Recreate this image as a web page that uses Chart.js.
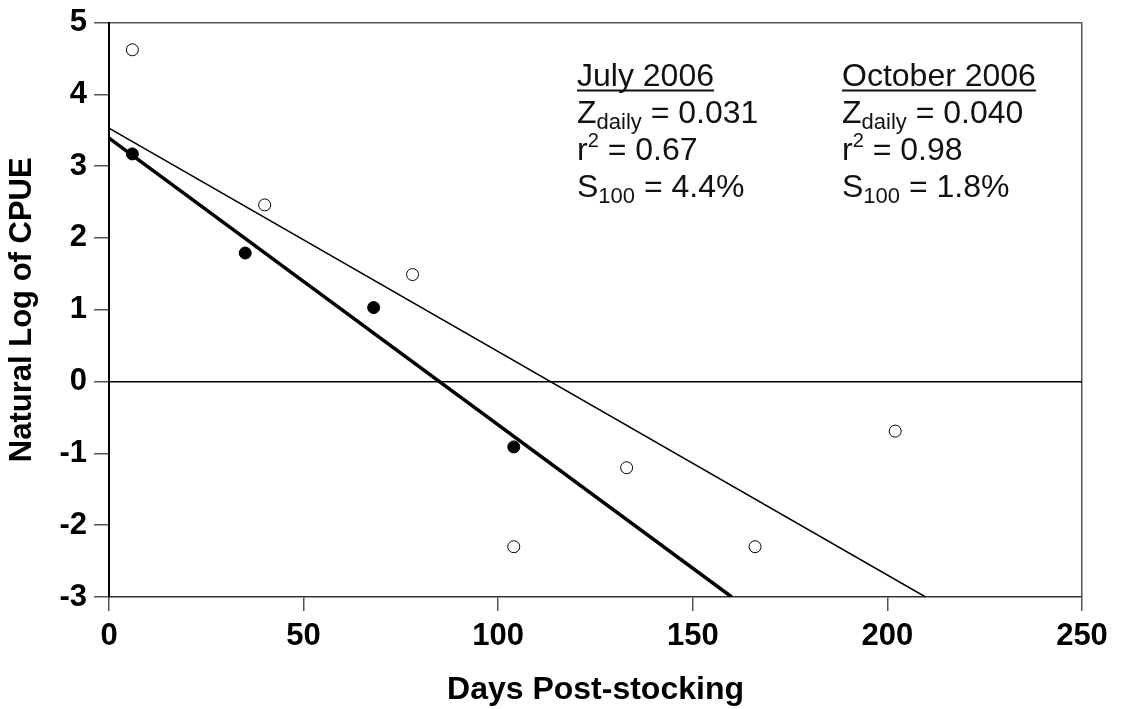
<!DOCTYPE html>
<html>
<head>
<meta charset="utf-8">
<script src="https://cdn.jsdelivr.net/npm/chart.js@4.4.0/dist/chart.umd.min.js"></script>
<style>
  html, body { margin: 0; padding: 0; background: #fff; }
</style>
</head>
<body>
<canvas id="chart" width="1123" height="709"></canvas>
<script>
// July 2006 release (open circles) and October 2006 release (filled circles)
var julyDays = [6, 40, 78, 104, 133, 166, 202];
var julyLnCpue = [4.62, 2.46, 1.49, -2.30, -1.20, -2.30, -0.69];
var octDays = [6, 35, 68, 104];
var octLnCpue = [3.17, 1.79, 1.03, -0.91];

// regression lines, end points
var julyFitDays = [0, 209.8];
var julyFitLn = [3.53, -3];
var octFitDays = [0, 160];
var octFitLn = [3.39, -3];

var xTicks = [0, 50, 100, 150, 200, 250];
var yTicks = [-3, -2, -1, 0, 1, 2, 3, 4, 5];

// text block
var seasons = ['July 2006', 'October 2006'];
var zDaily = ['0.031', '0.040'];
var rSquared = ['0.67', '0.98'];
var s100 = ['4.4%', '1.8%'];

var FONT = '"Liberation Sans", Arial, sans-serif';

function toPoints(xs, ys) {
  var pts = [];
  for (var i = 0; i < xs.length; i++) pts.push({x: xs[i], y: ys[i]});
  return pts;
}

function drawRun(ctx, x, y, parts) {
  for (var i = 0; i < parts.length; i++) {
    var p = parts[i];
    ctx.font = p.size + 'px ' + FONT;
    ctx.fillText(p.t, x, y + (p.dy || 0));
    x += ctx.measureText(p.t).width;
  }
  return x;
}

var statsText = {
  id: 'statsText',
  afterDraw: function(chart) {
    var ctx = chart.ctx;
    var area = chart.chartArea;
    var cols = [area.left + 468, area.left + 733];
    var base = area.top + 63;
    var step = 37;
    ctx.save();
    ctx.fillStyle = '#111';
    ctx.textBaseline = 'alphabetic';
    ctx.textAlign = 'left';
    for (var i = 0; i < seasons.length; i++) {
      var x = cols[i];
      ctx.font = '32px ' + FONT;
      ctx.fillText(seasons[i], x, base);
      var w = ctx.measureText(seasons[i]).width;
      ctx.fillRect(x, base + 4, w, 2);
      drawRun(ctx, x, base + step, [
        {t: 'Z', size: 32},
        {t: 'daily', size: 22, dy: 6},
        {t: ' = ' + zDaily[i], size: 32}
      ]);
      drawRun(ctx, x, base + step * 2, [
        {t: 'r', size: 32},
        {t: '2', size: 20, dy: -13},
        {t: ' = ' + rSquared[i], size: 32}
      ]);
      drawRun(ctx, x, base + step * 3, [
        {t: 'S', size: 32},
        {t: '100', size: 22, dy: 6},
        {t: ' = ' + s100[i], size: 32}
      ]);
    }
    ctx.restore();
  }
};

var chart = new Chart(document.getElementById('chart').getContext('2d'), {
  type: 'scatter',
  data: {
    datasets: [
      {
        label: 'July 2006 fit',
        data: toPoints(julyFitDays, julyFitLn),
        showLine: true,
        borderColor: '#000',
        borderWidth: 1.5,
        pointRadius: 0,
        order: 3
      },
      {
        label: 'October 2006 fit',
        data: toPoints(octFitDays, octFitLn),
        showLine: true,
        borderColor: '#000',
        borderWidth: 3.5,
        pointRadius: 0,
        order: 2
      },
      {
        label: 'July 2006',
        data: toPoints(julyDays, julyLnCpue),
        pointRadius: 6,
        pointBackgroundColor: '#fff',
        pointBorderColor: '#000',
        pointBorderWidth: 1,
        order: 1
      },
      {
        label: 'October 2006',
        data: toPoints(octDays, octLnCpue),
        pointRadius: 6,
        pointBackgroundColor: '#000',
        pointBorderColor: '#000',
        pointBorderWidth: 1,
        order: 0
      }
    ]
  },
  options: {
    responsive: false,
    animation: false,
    events: [],
    layout: { padding: { top: 21, right: 41, left: 0, bottom: 0 } },
    plugins: {
      legend: { display: false },
      tooltip: { enabled: false }
    },
    scales: {
      x: {
        type: 'linear',
        min: 0,
        max: 250,
        afterBuildTicks: function(scale) {
          scale.ticks = xTicks.map(function(v) { return {value: v}; });
        },
        afterFit: function(scale) { scale.height = 112; },
        grid: {
          drawOnChartArea: true,
          color: function(c) { return c.tick && c.tick.value === 250 ? '#555' : 'rgba(0,0,0,0)'; },
          lineWidth: 1.5,
          tickColor: '#555',
          tickLength: 14
        },
        border: { color: '#333', width: 1.5 },
        ticks: {
          color: '#000',
          padding: 7,
          maxRotation: 0,
          font: { family: FONT, size: 31, weight: 'bold' }
        },
        title: {
          display: true,
          text: 'Days Post-stocking',
          color: '#000',
          padding: { top: 0, bottom: 0 },
          font: { family: FONT, size: 32, weight: 'bold' }
        }
      },
      y: {
        type: 'linear',
        min: -3,
        max: 5,
        afterBuildTicks: function(scale) {
          scale.ticks = yTicks.map(function(v) { return {value: v}; });
        },
        afterFit: function(scale) { scale.width = 109; },
        grid: {
          drawOnChartArea: true,
          color: function(c) {
            if (!c.tick) return 'rgba(0,0,0,0)';
            if (c.tick.value === 0) return '#000';
            if (c.tick.value === 5) return '#555';
            return 'rgba(0,0,0,0)';
          },
          lineWidth: 1.5,
          tickColor: '#555',
          tickLength: 15
        },
        border: { color: '#000', width: 2 },
        ticks: {
          color: '#000',
          padding: 7,
          font: { family: FONT, size: 31, weight: 'bold', lineHeight: 1 }
        },
        title: {
          display: true,
          text: 'Natural Log of CPUE',
          color: '#000',
          padding: { top: 4, bottom: 0 },
          font: { family: FONT, size: 31, weight: 'bold' }
        }
      }
    }
  },
  plugins: [statsText]
});
</script>
</body>
</html>
